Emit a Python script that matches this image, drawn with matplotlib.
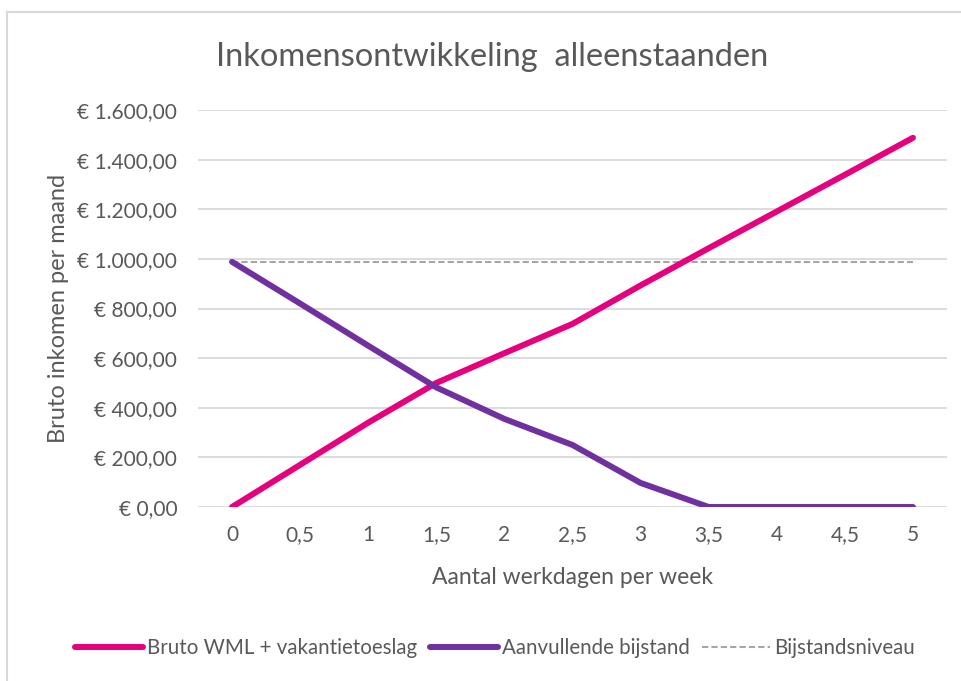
import matplotlib
matplotlib.use("Agg")
import matplotlib.pyplot as plt
from matplotlib.lines import Line2D
from matplotlib.ticker import FuncFormatter, MultipleLocator

plt.rcParams['font.family'] = ['Lato', 'DejaVu Sans']

# data
werkdagen = [0, 0.5, 1, 1.5, 2, 2.5, 3, 3.5, 4, 4.5, 5]
tick_labels = ['0', '0,5', '1', '1,5', '2', '2,5', '3', '3,5', '4', '4,5', '5']
bruto_wml = [0, 170, 340, 500, 620, 738, 893, 1043, 1191, 1339, 1488]
aanvullend = [988, 820, 650, 482, 355, 250, 97, 0, 0, 0, 0]
bijstandsniveau = [986] * len(werkdagen)

grey = '#595959'
pink = '#E6007E'
purple = '#7030A0'

fig = plt.figure(figsize=(9.62, 6.81), dpi=100)
W, H = 962, 681

# chart frame (only top and left edge visible)
fig.add_artist(Line2D([7 / W, 7 / W], [0, 1 - 12 / H], color='#D9D9D9', lw=1.5))
fig.add_artist(Line2D([7 / W, 1], [1 - 12 / H, 1 - 12 / H], color='#D9D9D9', lw=1.5))

ax = fig.add_axes([198 / W, 1 - 507 / H, (947 - 198) / W, (507 - 110) / H])

ax.plot(werkdagen, bruto_wml, color=pink, lw=4.3, solid_capstyle='round',
        solid_joinstyle='round', label='Bruto WML + vakantietoeslag', zorder=3)
ax.plot(werkdagen, aanvullend, color=purple, lw=4.3, solid_capstyle='round',
        solid_joinstyle='round', label='Aanvullende bijstand', zorder=3)
ax.plot(werkdagen, bijstandsniveau, color='#A6A6A6', lw=1.5, ls=(0, (3, 1.5)),
        label='Bijstandsniveau', zorder=2)

ax.set_xlim(-0.25, 5.25)
ax.set_ylim(0, 1600)
ax.set_xticks(werkdagen)
ax.set_xticklabels(tick_labels)
ax.yaxis.set_major_locator(MultipleLocator(200))


def euro(v, pos):
    s = '{:,.2f}'.format(v).replace(',', 'X').replace('.', ',').replace('X', '.')
    return '€ ' + s


ax.yaxis.set_major_formatter(FuncFormatter(euro))
ax.grid(axis='y', color='#D9D9D9', lw=1.3)
ax.set_axisbelow(True)
for s in ax.spines.values():
    s.set_visible(False)
ax.tick_params(axis='both', length=0, labelsize=15, colors=grey)
ax.tick_params(axis='y', pad=15)
ax.tick_params(axis='x', pad=13)

ax.set_xlabel('Aantal werkdagen per week', fontsize=16.5, color=grey, labelpad=16)
ax.set_ylabel('Bruto inkomen per maand', fontsize=17, color=grey, labelpad=6)
fig.text(492 / W, 1 - 57 / H, 'Inkomensontwikkeling  alleenstaanden', fontsize=23.5,
         color=grey, ha='center', va='center')

fig.legend(loc='center', bbox_to_anchor=(495 / W, 1 - 648 / H), ncol=3, frameon=False,
           fontsize=14.8, labelcolor=grey, handlelength=3.3, handletextpad=0.2,
           columnspacing=0.6)

fig.savefig('out.png', dpi=100, facecolor='white')
